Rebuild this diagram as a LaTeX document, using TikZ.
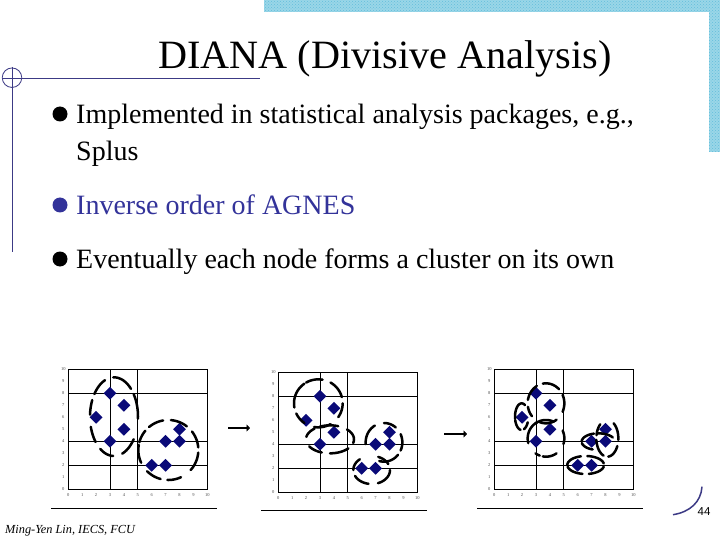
\documentclass[tikz,border=0pt]{standalone}
\usepackage{fontspec}
\setmainfont{Liberation Serif}
\setsansfont{Liberation Sans}
\usetikzlibrary{patterns,arrows.meta,shapes.geometric}
\definecolor{band}{HTML}{9AD6E8}
\definecolor{bandd}{HTML}{62BEDB}
\definecolor{rulec}{HTML}{3C3A85}
\definecolor{mark}{HTML}{0A0A78}
\definecolor{invcol}{HTML}{33339A}
\tikzset{
  ttl/.style={anchor=base west,inner sep=0pt,font=\fontsize{40.2}{40}\selectfont},
  bodytxt/.style={anchor=base west,inner sep=0pt,font=\fontsize{28}{28}\selectfont},
  bulletdot/.style={circle,fill=black,inner sep=0pt,minimum size=15pt},
  gridl/.style={line width=0.8pt,black},
  blob/.style={line width=2.5pt,black},
  tick/.style={inner sep=0pt,font=\fontsize{4.5}{5}\selectfont,text=black!70},
  flow/.style={line width=2.8pt,-{Triangle[length=3.5pt,width=7pt]}},
  diam/.style={diamond,fill=mark,inner sep=0pt,minimum width=13pt,minimum height=13pt}
}
% chart with top-left pixel (#1,#2)
\newcommand{\chartbox}[2]{%
  \begin{scope}[shift={(#1,#2)}]
    \draw[gridl] (0,0) rectangle (139,120);
    \draw[gridl] (41.7,0) -- (41.7,120);
    \draw[gridl] (69.5,0) -- (69.5,120);
    \draw[gridl] (0,24) -- (139,24);
    \draw[gridl] (0,72) -- (139,72);
    \draw[gridl] (0,96) -- (139,96);
    \foreach \k in {0,...,10}{
      \node[tick] at ({\k*13.9},126) {\k};
      \node[tick] at (-5,{120-\k*12}) {\k};
    }
    \foreach \px/\py in {3/8,4/7,2/6,4/5,3/4,7/4,8/4,8/5,6/2,7/2}{
      \node[diam] at ({\px*13.9},{120-\py*12}) {};
    }
  \end{scope}}
% arcs of a broken ellipse, zoom-pixel geometry: ox oy cx cy rx ry then list
\newcommand{\blobarcs}[7]{%
  \foreach \a/\b in {#7}{
    \draw[blob,line cap=round] plot[smooth,samples=14,domain=\a:\b,variable=\t]
      ({#1+(#3+#5*cos(\t))/3},{#2+(#4-#6*sin(\t))/3});
  }}
\begin{document}
\begin{tikzpicture}[x=1pt,y=-1pt]
\useasboundingbox (0,0) rectangle (720,540);
\fill[white] (0,0) rectangle (720,540);
% decorative band
\fill[band] (264,0) rectangle (720,12) (709,12) rectangle (720,152);
\fill[pattern=crosshatch dots,pattern color=bandd] (264,0) rectangle (720,12) (709,12) rectangle (720,152);
% corner rule
\draw[rulec,line width=0.8pt] (2,78) -- (260,78);
\draw[rulec,line width=0.8pt] (12.3,67) -- (12.3,252);
\node[draw=rulec,line width=0.8pt,circle,minimum size=19.5pt,inner sep=0pt] (ring) at (12,77.7) {};
% title and bullets
\node[ttl] (title) at (158,69) {DIANA (Divisive Analysis)};
\node[bulletdot] (b1) at (60,114) {};
\node[bodytxt] (t1) at (76,123.5) {Implemented in statistical analysis packages, e.g.,};
\node[bodytxt] (t1b) at (76,161) {Splus};
\node[bulletdot,fill=invcol] (b2) at (60,205) {};
\node[bodytxt,text=invcol] (t2) at (76,214.5) {Inverse order of AGNES};
\node[bulletdot] (b3) at (60,259) {};
\node[bodytxt] (t3) at (76,268.5) {Eventually each node forms a cluster on its own};
% charts
\chartbox{68.3}{369.3}
\chartbox{278.3}{372.3}
\chartbox{494.3}{369.3}
\draw[line width=0.8pt] (51,508) -- (217,508);
\draw[line width=0.8pt] (261,510.7) -- (427,510.7);
\draw[line width=0.8pt] (477,508) -- (643,508);
% chart 1 blobs
\blobarcs{50}{355}{192}{185}{72}{118}{92/45,35/-3,-35/-70,-92/-125,-140/-165,177/155,145/112}
\blobarcs{50}{355}{355}{285}{90}{90}{130/100,85/52,38/5,-5/-42,-65/-92,-105/-135,-155/-190,165/140}
% chart 2 blobs
\blobarcs{250}{355}{205}{145}{73}{72}{190/125,120/80,60/15,0/-35,-60/-100,-125/-155}
\blobarcs{250}{355}{240}{253}{72}{42}{170/130,115/70,45/-15,-40/-90,-110/-150}
\blobarcs{250}{355}{402}{262}{55}{58}{185/120,90/50,25/-25,-40/-105}
\blobarcs{250}{355}{365}{345}{55}{42}{180/130,69/25,0/-70,-100/-155}
% chart 3 blobs
\blobarcs{450}{355}{215}{185}{20}{40}{190/60,-25/-70,-100/-165}
\blobarcs{450}{355}{288}{145}{55}{60}{170/120,100/45,25/-25,-55/-110,-140/-170}
\blobarcs{450}{355}{288}{250}{55}{55}{120/195,-125/-110,-100/-55,-18/25,125/65}
\blobarcs{450}{355}{445}{260}{50}{25}{180/105,90/30,-110/-170}
\blobarcs{450}{355}{472}{250}{33}{55}{55/-5,-25/-85,-110/-175,170/130}
\blobarcs{450}{355}{407}{330}{55}{27}{180/105,85/10,-10/-80,-100/-170}
% flow arrows
\coordinate (a1) at (228,428); \coordinate (a2) at (250,428);
\coordinate (a3) at (444,434); \coordinate (a4) at (467,434);
\draw[flow] (a1) -- (a2);
\draw[flow] (a3) -- (a4);
% footer
\draw[rulec,line width=1.5pt] (673,514.7) .. controls (690,512) and (701,502) .. (702,486.7);
\node[anchor=base west,inner sep=0pt,font=\sffamily\fontsize{11.5}{12}\selectfont] (pg) at (697.5,515) {44};
\node[anchor=base west,inner sep=0pt,font=\itshape\fontsize{12.3}{13}\selectfont] (ft) at (5,533) {Ming-Yen Lin, IECS, FCU};
\end{tikzpicture}
\end{document}
